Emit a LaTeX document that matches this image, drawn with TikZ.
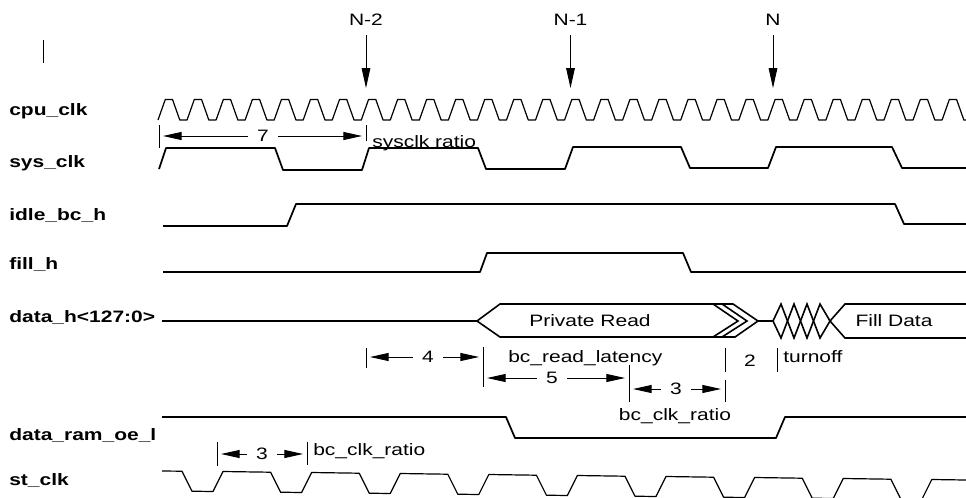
\documentclass[tikz,border=0pt]{standalone}
\usepackage{fontspec}
\setmainfont{Liberation Sans}[FakeStretch=1.27]
\usepackage{tikz}
\usetikzlibrary{arrows.meta}

\tikzstyle{signal} = [line width=1.3pt, line join=round]
\tikzstyle{clk} = [line width=0.9pt, line join=round]
\tikzstyle{bus} = [line width=1.2pt, line join=miter]
\tikzstyle{tick} = [line width=0.7pt]
\tikzstyle{dimarrow} = [-{Triangle[length=14pt, width=6pt]}, line width=0.7pt, shorten >=3pt]
\tikzstyle{marker} = [-{Triangle[length=15pt, width=6.5pt]}, line width=0.7pt, shorten <=7.5pt]
\tikzstyle{siglabel} = [anchor=base west, inner sep=0pt, font=\fontsize{12.4}{14}\selectfont\bfseries]
\tikzstyle{txt} = [inner sep=0pt, font=\fontsize{12.4}{14}\selectfont]
\tikzstyle{num} = [inner xsep=7pt, inner ysep=0pt, font=\fontsize{12.4}{14}\selectfont]

\begin{document}
\begin{tikzpicture}[x=0.75pt, y=-0.75pt]
    \useasboundingbox (0,0) rectangle (966,497);
    \clip (0,0) rectangle (966,497);

    % Signal names
    \node[siglabel] (lcpu) at (9,115) {cpu\_clk};
    \node[siglabel] (lsys) at (9,167) {sys\_clk};
    \node[siglabel] (lidle) at (9,220) {idle\_bc\_h};
    \node[siglabel] (lfill) at (9,269) {fill\_h};
    \node[siglabel] (ldata) at (9,322) {data\_h<127:0>};
    \node[siglabel] (loe) at (9,440) {data\_ram\_oe\_l};
    \node[siglabel] (lst) at (9,485) {st\_clk};

    % Cursor mark
    \draw[line width=0.7pt] (43,40) -- (43,63);

    % Cycle markers
    \node[txt, anchor=base] (mn2) at (366,25) {N-2};
    \node[txt, anchor=base] (mn1) at (570.5,25) {N-1};
    \node[txt, anchor=base] (mn0) at (773,25) {N};
    \coordinate (mn2tip) at (366,88);
    \coordinate (mn1tip) at (570.5,88);
    \coordinate (mn0tip) at (773,88);
    \draw[marker] (mn2) -- (mn2tip);
    \draw[marker] (mn1) -- (mn1tip);
    \draw[marker] (mn0) -- (mn0tip);

    % Waveforms
    \draw[clk] (158,120) \foreach \k in {0,...,27} {
        -- ++(7.26,-20.5) -- ++(7.26,0) -- ++(7.26,20.5) -- ++(7.26,0)};
    \draw[signal] (159,169) -- (166,148) -- (275,148) -- (283,170) -- (362,170)
        -- (369,148) -- (478,148) -- (486,169) -- (565,169) -- (573,147)
        -- (681,147) -- (690,168) -- (768,168) -- (776,147) -- (892,147)
        -- (902,168) -- (966,168);
    \draw[signal] (163,226) -- (287,226) -- (296,204) -- (895,204) -- (904,224) -- (966,224);
    \draw[signal] (163,272) -- (480,272) -- (487,253) -- (683,253) -- (691,272) -- (966,272);
    \draw[signal] (162,417) -- (506,417) -- (515,438) -- (776,438) -- (785,417) -- (966,417);
    \draw[clk] (162,471) -- (182,471.2) \foreach \k in {0,...,8} {
        -- ++(10,20) -- ++(21,0.3) -- ++(10,-20) -- ++(47.6,0.7)};

    % Data bus
    \draw[signal] (162,321) -- (477,321);
    \draw[bus] (477,321) -- (500,304) -- (733,304) -- (758,321) -- (735,337) -- (500,337) -- cycle;
    \draw[bus] (713,304) -- (738,321) -- (713,337);
    \draw[bus] (722,304) -- (747,321) -- (722,337);
    \draw[signal] (758,321) -- (773,321);
    \draw[bus] (773,321) -- (781,304) -- (794,338) -- (807,304) -- (820,338) -- (830,321);
    \draw[bus] (773,321) -- (781,338) -- (794,304) -- (807,338) -- (820,304) -- (830,321);
    \draw[bus] (966,304) -- (845,304) -- (830,321) -- (845,338) -- (966,338);
    \node[txt] (lpriv) at (590,321) {Private Read};
    \node[txt] (lfdat) at (894,321) {Fill Data};

    % sysclk ratio
    \coordinate (t7l) at (159,125);
    \coordinate (t7r) at (366,125);
    \draw[tick] (t7l) -- ++(0,23);
    \draw[tick] (t7r) -- ++(0,16);
    \node[num] (n7) at (263,136) {7};
    \draw[dimarrow] (n7) -- (n7 -| t7l);
    \draw[dimarrow] (n7) -- (n7 -| t7r);
    \node[txt, anchor=base west] (lsysr) at (372,147) {sysclk ratio};

    % Read latency and turnoff
    \coordinate (t4l) at (366,348);
    \coordinate (t45) at (483,347);
    \coordinate (t53) at (629,365);
    \coordinate (t3r) at (725,380);
    \coordinate (t2l) at (725,348);
    \coordinate (t2r) at (777,348);
    \draw[tick] (t4l) -- ++(0,20);
    \draw[tick] (t45) -- ++(0,40);
    \draw[tick] (t53) -- ++(0,37);
    \draw[tick] (t3r) -- ++(0,22);
    \draw[tick] (t2l) -- ++(0,24);
    \draw[tick] (t2r) -- ++(0,24);
    \node[num] (n4) at (428,357) {4};
    \node[num] (n5) at (552,378) {5};
    \node[num] (n3) at (676,389) {3};
    \draw[dimarrow] (n4) -- (n4 -| t4l);
    \draw[dimarrow] (n4) -- (n4 -| t45);
    \draw[dimarrow] (n5) -- (n5 -| t45);
    \draw[dimarrow] (n5) -- (n5 -| t53);
    \draw[dimarrow] (n3) -- (n3 -| t53);
    \draw[dimarrow] (n3) -- (n3 -| t3r);
    \node[txt, anchor=base west] (lrdl) at (508,362) {bc\_read\_latency};
    \node[txt, anchor=base] (n2) at (750,366) {2};
    \node[txt, anchor=base west] (lturn) at (783,362) {turnoff};
    \node[txt, anchor=base] (lbcr) at (675,420) {bc\_clk\_ratio};

    % bc_clk ratio on st_clk
    \coordinate (tbl) at (217,442);
    \coordinate (tbr) at (307,442);
    \draw[tick] (tbl) -- ++(0,24);
    \draw[tick] (tbr) -- ++(0,23);
    \node[num] (nb3) at (262,454) {3};
    \draw[dimarrow] (nb3) -- (nb3 -| tbl);
    \draw[dimarrow] (nb3) -- (nb3 -| tbr);
    \node[txt, anchor=base west] (lbcr2) at (313,455) {bc\_clk\_ratio};

\end{tikzpicture}
\end{document}
